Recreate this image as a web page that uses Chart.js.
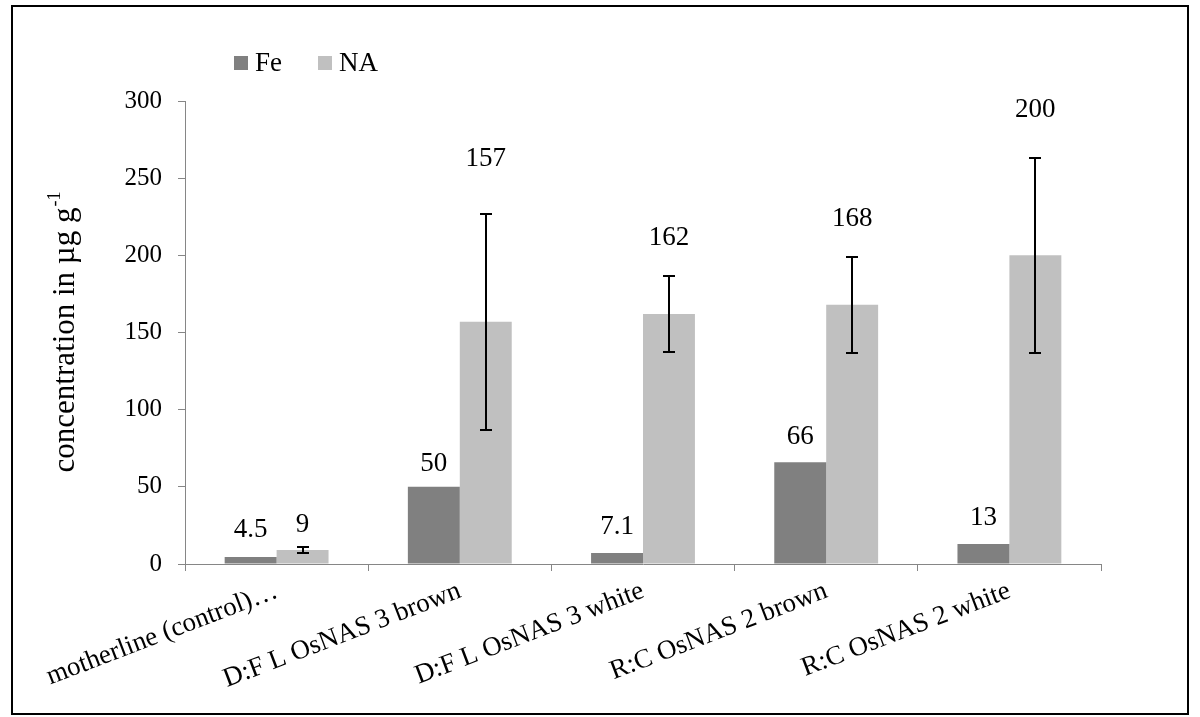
<!DOCTYPE html>
<html>
<head>
<meta charset="utf-8">
<script src="https://cdn.jsdelivr.net/npm/chart.js@4/dist/chart.umd.min.js"></script>
<style>
  html, body { margin: 0; padding: 0; background: #ffffff; }
  canvas { display: block; }
</style>
</head>
<body>
<canvas id="chart" width="1200" height="717"></canvas>
<script>
// Grain concentrations of iron (Fe) and nicotianamine (NA)
const categories = [
  'motherline (control)…',
  'D:F L OsNAS 3 brown',
  'D:F L OsNAS 3 white',
  'R:C OsNAS 2 brown',
  'R:C OsNAS 2 white'
];
const feValues = [4.5, 50, 7.1, 66, 13];
const naValues = [9, 157, 162, 168, 200];
const naErrors = [2, 70, 24.5, 31, 63];
const yTickValues = [0, 50, 100, 150, 200, 250, 300];

const SERIF = '"Liberation Serif", "Times New Roman", Times, serif';
const AXIS_GREY = '#868686';

// gap (px) between the top of each mark (or its error bar) and its value label
const labelGap = { fe: [27, 23, 26, 25, 26], na: [22, 55, 38, 38, 48] };

const backgroundPlugin = {
  id: 'background',
  beforeDraw(chart) {
    const ctx = chart.ctx;
    ctx.save();
    ctx.fillStyle = '#ffffff';
    ctx.fillRect(0, 0, chart.width, chart.height);
    ctx.restore();
  },
  afterDraw(chart) {
    const ctx = chart.ctx;
    ctx.save();
    ctx.strokeStyle = '#000000';
    ctx.lineWidth = 2;
    ctx.strokeRect(12, 6, 1176, 708);
    ctx.restore();
  }
};

const errorBarPlugin = {
  id: 'errorBars',
  afterDatasetsDraw(chart) {
    const ctx = chart.ctx;
    const y = chart.scales.y;
    const meta = chart.getDatasetMeta(1);
    ctx.save();
    ctx.strokeStyle = '#000000';
    ctx.lineWidth = 2;
    meta.data.forEach((bar, i) => {
      const v = naValues[i], e = naErrors[i];
      const top = Math.round(y.getPixelForValue(v + e));
      const bot = Math.round(y.getPixelForValue(v - e));
      const x = Math.round(bar.x);
      ctx.beginPath();
      ctx.moveTo(x, top); ctx.lineTo(x, bot);
      ctx.moveTo(x - 6, top); ctx.lineTo(x + 6, top);
      ctx.moveTo(x - 6, bot); ctx.lineTo(x + 6, bot);
      ctx.stroke();
    });
    ctx.restore();
  }
};

const valueLabelPlugin = {
  id: 'valueLabels',
  afterDatasetsDraw(chart) {
    const ctx = chart.ctx;
    const y = chart.scales.y;
    ctx.save();
    ctx.fillStyle = '#000000';
    ctx.font = '27px ' + SERIF;
    ctx.textAlign = 'center';
    ctx.textBaseline = 'middle';
    chart.getDatasetMeta(0).data.forEach((bar, i) => {
      ctx.fillText(String(feValues[i]), bar.x, bar.y - labelGap.fe[i]);
    });
    chart.getDatasetMeta(1).data.forEach((bar, i) => {
      const top = y.getPixelForValue(naValues[i] + naErrors[i]);
      ctx.fillText(String(naValues[i]), bar.x, top - labelGap.na[i]);
    });
    ctx.restore();
  }
};

const legendPlugin = {
  id: 'cornerLegend',
  afterDraw(chart) {
    const ctx = chart.ctx;
    ctx.save();
    ctx.font = '27px ' + SERIF;
    ctx.textBaseline = 'alphabetic';
    ctx.textAlign = 'left';
    let x = 234;
    chart.data.datasets.forEach(ds => {
      ctx.fillStyle = ds.backgroundColor;
      ctx.fillRect(x, 56, 14, 14);
      ctx.fillStyle = '#000000';
      ctx.fillText(ds.label, x + 21, 71);
      x += 21 + ctx.measureText(ds.label).width + 36;
    });
    ctx.restore();
  }
};

const yTitlePlugin = {
  id: 'yTitle',
  afterDraw(chart) {
    const ctx = chart.ctx;
    const area = chart.chartArea;
    const main = 'concentration in µg g';
    const sup = '-1';
    ctx.save();
    ctx.translate(74, (area.top + area.bottom) / 2);
    ctx.rotate(-Math.PI / 2);
    ctx.fillStyle = '#000000';
    ctx.textBaseline = 'alphabetic';
    ctx.textAlign = 'left';
    ctx.font = '31px ' + SERIF;
    const w1 = ctx.measureText(main).width;
    ctx.font = '18px ' + SERIF;
    const w2 = ctx.measureText(sup).width;
    const start = -(w1 + w2) / 2;
    ctx.font = '31px ' + SERIF;
    ctx.fillText(main, start, 0);
    ctx.font = '18px ' + SERIF;
    ctx.fillText(sup, start + w1 + 1, -14);
    ctx.restore();
  }
};

new Chart(document.getElementById('chart'), {
  type: 'bar',
  data: {
    labels: categories,
    datasets: [
      { label: 'Fe', data: feValues, backgroundColor: '#808080', borderWidth: 0,
        categoryPercentage: 0.567, barPercentage: 1.0 },
      { label: 'NA', data: naValues, backgroundColor: '#c0c0c0', borderWidth: 0,
        categoryPercentage: 0.567, barPercentage: 1.0 }
    ]
  },
  options: {
    responsive: false,
    animation: false,
    devicePixelRatio: 1,
    layout: { padding: { top: 101, right: 99, bottom: 0, left: 0 } },
    plugins: {
      legend: { display: false },
      title: { display: false },
      tooltip: { enabled: false }
    },
    scales: {
      x: {
        offset: true,
        grid: {
          offset: true,
          drawOnChartArea: false,
          drawTicks: true,
          tickLength: 7,
          color: AXIS_GREY,
          lineWidth: 1
        },
        border: { color: AXIS_GREY, width: 1 },
        ticks: {
          autoSkip: false,
          minRotation: 21,
          maxRotation: 21,
          padding: 4,
          color: '#000000',
          font: { family: SERIF, size: 27 }
        },
        afterFit(scale) { scale.height = 153; }
      },
      y: {
        min: 0,
        max: 300,
        afterBuildTicks(scale) {
          scale.ticks = yTickValues.map(v => ({ value: v }));
        },
        grid: {
          drawOnChartArea: false,
          drawTicks: true,
          tickLength: 7,
          color: AXIS_GREY,
          lineWidth: 1
        },
        border: { color: AXIS_GREY, width: 1 },
        ticks: {
          padding: 16,
          color: '#000000',
          font: { family: SERIF, size: 25 }
        },
        afterFit(scale) { scale.width = 185; }
      }
    }
  },
  plugins: [backgroundPlugin, errorBarPlugin, valueLabelPlugin, legendPlugin, yTitlePlugin]
});
</script>
</body>
</html>
